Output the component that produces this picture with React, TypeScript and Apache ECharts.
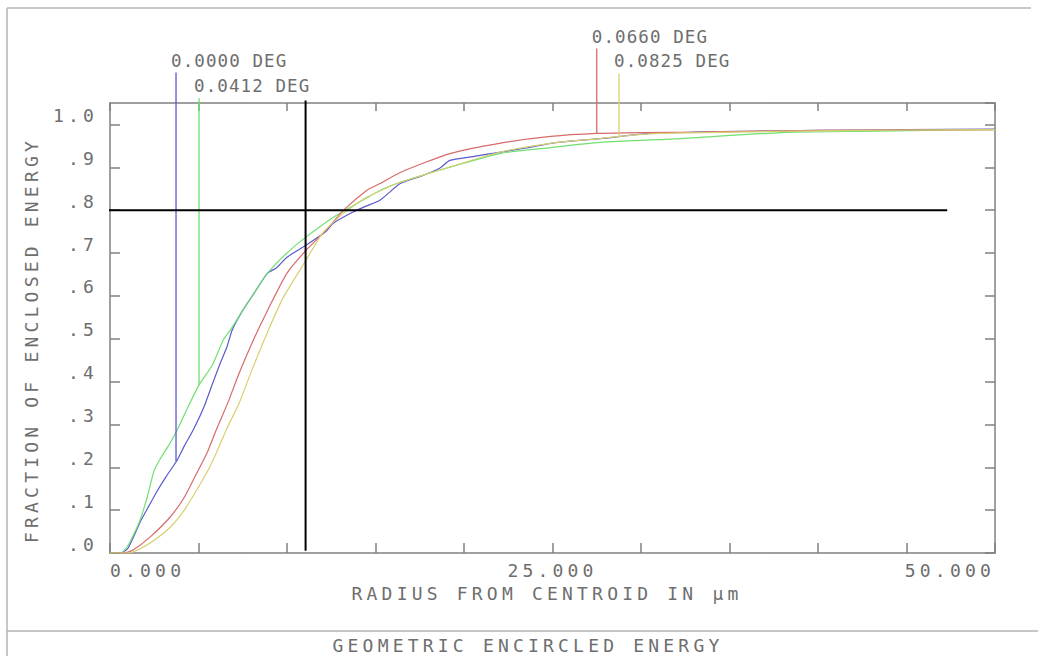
import React, { useEffect, useRef } from "react";
import * as echarts from "echarts";

// ---------- data (radius in µm, fraction of enclosed energy) ----------
const seriesNames = ["0.0000 DEG", "0.0412 DEG", "0.0660 DEG", "0.0825 DEG"];
const seriesColors = ["#5a5ad0", "#6fe06f", "#d86a6a", "#d8d070"];

const deg0000: [number, number][] = [
  [0, 0], [0.6, 0], [1.0, 0.01], [1.3, 0.035], [1.7, 0.072], [2.2, 0.11], [2.7, 0.147],
  [3.2, 0.18], [3.8, 0.217], [4.2, 0.25], [4.7, 0.287], [5.3, 0.34], [5.8, 0.396],
  [6.2, 0.44], [6.6, 0.48], [6.9, 0.52], [7.5, 0.566], [8.2, 0.61], [8.9, 0.653],
  [9.4, 0.665], [10.0, 0.69], [11.07, 0.718], [12.2, 0.75], [12.6, 0.769], [13.7, 0.795],
  [14.5, 0.81], [15.25, 0.823], [16.4, 0.862], [17.5, 0.878], [18.6, 0.897], [19.2, 0.916],
  [20.5, 0.925], [22, 0.935], [23.5, 0.945], [24.9, 0.956], [26, 0.961], [27.7, 0.967],
  [30.5, 0.979], [33, 0.982], [36, 0.984], [40, 0.986], [45, 0.988], [50, 0.989],
];
const deg0412: [number, number][] = [
  [0, 0], [0.6, 0], [0.96, 0.014], [1.3, 0.04], [1.7, 0.077], [2.1, 0.13], [2.5, 0.193],
  [2.9, 0.224], [3.3, 0.25], [3.8, 0.287], [4.4, 0.34], [5.0, 0.39], [5.8, 0.44],
  [6.4, 0.497], [6.8, 0.52], [7.5, 0.566], [8.2, 0.61], [8.9, 0.653], [10.0, 0.7],
  [11.07, 0.737], [12.6, 0.783], [13.6, 0.807], [15.25, 0.846], [16.4, 0.865],
  [18.6, 0.893], [22, 0.932], [24.9, 0.946], [27.7, 0.958], [32.2, 0.967], [37.9, 0.981],
  [42.4, 0.984], [46, 0.986], [50, 0.988],
];
const deg0660: [number, number][] = [
  [0, 0], [0.8, 0], [1.3, 0.007], [2.26, 0.037], [3.4, 0.084], [4.2, 0.13], [4.9, 0.186],
  [5.5, 0.235], [6.0, 0.287], [6.7, 0.355], [7.3, 0.42], [8.1, 0.497], [8.9, 0.566],
  [10.0, 0.653], [11.07, 0.706], [12.2, 0.753], [13.2, 0.8], [14.5, 0.846], [15.25, 0.862],
  [16.4, 0.888], [19.2, 0.932], [22, 0.956], [24.9, 0.972], [27.5, 0.979], [30, 0.981],
  [33.3, 0.982], [36, 0.984], [40, 0.986], [45, 0.987], [50, 0.988],
];
const deg0825: [number, number][] = [
  [0, 0], [1.0, 0], [1.7, 0.01], [2.5, 0.03], [3.4, 0.06], [4.2, 0.1], [4.9, 0.147],
  [5.5, 0.19], [6.0, 0.233], [6.6, 0.29], [7.3, 0.35], [8.0, 0.425], [9.0, 0.525],
  [9.8, 0.597], [11.07, 0.683], [12.0, 0.746], [13.2, 0.793], [14.5, 0.83],
  [16.4, 0.865], [18.6, 0.893], [22, 0.935], [24.9, 0.956], [27.7, 0.967], [28.76, 0.972],
  [31, 0.979], [35, 0.982], [40, 0.985], [45, 0.987], [50, 0.988],
];
const allSeries = [deg0000, deg0412, deg0660, deg0825];

// legend marker lines: x position (µm) and top end (fraction units, above plot)
const markerX = [3.73, 5.03, 27.5, 28.76];
const markerTop = [1.121, 1.061, 1.177, 1.119];

// cross-hair
const crossX = 11.05;
const crossY = 0.8;
const crossXExtent = [-2.03, 47.3];
const crossYExtent = [0.005, 1.056];

// axes
const xTicks = { min: 0, max: 50, interval: 5 };
const yTicks = { min: 0, max: 1.05, interval: 0.1 };

const FONT = '"DejaVu Sans Mono", monospace';
const TXT = "#6e6e6e";
const AXC = "#808080";

function interp(data: [number, number][], x: number): number {
  for (let i = 1; i < data.length; i++) {
    if (x <= data[i][0]) {
      const [x0, y0] = data[i - 1];
      const [x1, y1] = data[i];
      return y0 + ((y1 - y0) * (x - x0)) / (x1 - x0);
    }
  }
  return data[data.length - 1][1];
}

const css = `
.ee-chart text { letter-spacing: 4.2px; }
.ee-chart text[style*="17.5px"] { letter-spacing: 1.1px; }
`;

export default function App() {
  const ref = useRef<HTMLDivElement>(null);
  useEffect(() => {
    const chart = echarts.init(ref.current!, null, { renderer: "svg" });

    const curveSeries = allSeries.map((d, i) => ({
      type: "line",
      name: seriesNames[i],
      data: d,
      symbol: "none",
      showSymbol: false,
      silent: true,
      smooth: 0.2,
      lineStyle: { color: seriesColors[i], width: 1.2 },
      z: 3,
    }));

    const markerSeries = allSeries.map((d, i) => ({
      type: "line",
      name: seriesNames[i] + " marker",
      clip: false,
      silent: true,
      symbol: "circle",
      symbolSize: 0,
      showSymbol: true,
      lineStyle: { color: seriesColors[i], width: 1.3 },
      itemStyle: { color: seriesColors[i] },
      label: { show: false },
      data: [
        { value: [markerX[i], interp(d, markerX[i])] },
        {
          value: [markerX[i], markerTop[i]],
          label: {
            show: true,
            position: "top",
            distance: 3,
            align: "left",
            offset: [-5, 0],
            formatter: seriesNames[i],
            color: TXT,
            fontFamily: FONT,
            fontSize: 17.5,
          },
        },
      ],
      z: 4,
    }));

    const crossSeries = [
      {
        type: "line",
        clip: false,
        silent: true,
        symbol: "none",
        lineStyle: { color: "#000", width: 2 },
        data: [[crossXExtent[0], crossY], [crossXExtent[1], crossY]],
        z: 5,
      },
      {
        type: "line",
        clip: false,
        silent: true,
        symbol: "none",
        lineStyle: { color: "#000", width: 2 },
        data: [[crossX, crossYExtent[0]], [crossX, crossYExtent[1]]],
        z: 5,
      },
    ];

    const axisLine = { show: true, onZero: false, lineStyle: { color: AXC, width: 1.5 } };
    const labelFont = { color: TXT, fontFamily: FONT, fontSize: 18 };

    const option: any = {
      animation: false,
      backgroundColor: "#ffffff",
      grid: { left: 110, top: 103, width: 885, height: 450, containLabel: false, outerBoundsMode: "none" },
      xAxis: [
        {
          type: "value", position: "bottom", ...xTicks,
          axisLine,
          axisTick: { show: true, inside: true, length: 10, lineStyle: { color: AXC, width: 1.5 } },
          splitLine: { show: false },
          axisLabel: {
            ...labelFont,
            margin: 8,
            formatter: (v: number) => (Math.abs(v % 25) < 1e-9 ? v.toFixed(3) : ""),
            alignMinLabel: "left",
            alignMaxLabel: "right",
          },
        },
        {
          type: "value", position: "top", ...xTicks,
          axisLine,
          axisTick: { show: true, inside: true, length: 8, lineStyle: { color: AXC, width: 1.5 } },
          splitLine: { show: false },
          axisLabel: { show: false },
        },
      ],
      yAxis: [
        {
          type: "value", position: "left", ...yTicks,
          axisLine,
          axisTick: { show: true, inside: true, length: 10, lineStyle: { color: AXC, width: 1.5 } },
          splitLine: { show: false },
          axisLabel: {
            ...labelFont,
            margin: 12,
            verticalAlign: "bottom",
            showMaxLabel: false,
            formatter: (v: number) => {
              if (v > 1.001) return "";
              if (Math.abs(v - 1) < 1e-6) return "1.0";
              return "." + Math.round(v * 10);
            },
          },
        },
        {
          type: "value", position: "right", ...yTicks,
          axisLine,
          axisTick: { show: true, inside: true, length: 10, lineStyle: { color: AXC, width: 1.5 } },
          splitLine: { show: false },
          axisLabel: { show: false },
        },
      ],
      graphic: [
        { type: "line", shape: { x1: 7, y1: 8, x2: 1031, y2: 8 }, style: { stroke: "#b4b4b4", lineWidth: 1.5 }, silent: true },
        { type: "line", shape: { x1: 7, y1: 8, x2: 7, y2: 656 }, style: { stroke: "#b4b4b4", lineWidth: 1.5 }, silent: true },
        { type: "line", shape: { x1: 7, y1: 631, x2: 1038, y2: 631 }, style: { stroke: "#b4b4b4", lineWidth: 1.5 }, silent: true },
        {
          type: "text", x: 31, y: 340, rotation: Math.PI / 2, silent: true,
          style: { text: "FRACTION OF ENCLOSED ENERGY", fill: TXT, font: '18px "DejaVu Sans Mono"', align: "center", verticalAlign: "middle" },
        },
        {
          type: "text", x: 547, y: 593, silent: true,
          style: { text: "RADIUS FROM CENTROID IN µm", fill: TXT, font: '18px "DejaVu Sans Mono"', align: "center", verticalAlign: "middle" },
        },
        {
          type: "text", x: 528, y: 645, silent: true,
          style: { text: "GEOMETRIC ENCIRCLED ENERGY", fill: TXT, font: '18px "DejaVu Sans Mono"', align: "center", verticalAlign: "middle" },
        },
      ],
      series: [...curveSeries, ...markerSeries, ...crossSeries],
    };

    chart.setOption(option);
    return () => chart.dispose();
  }, []);

  return (
    <>
      <style>{css}</style>
      <div
        ref={ref}
        className="ee-chart"
        style={{ position: "fixed", left: 0, top: 0, width: 1038, height: 656, background: "#fff" }}
      />
    </>
  );
}
